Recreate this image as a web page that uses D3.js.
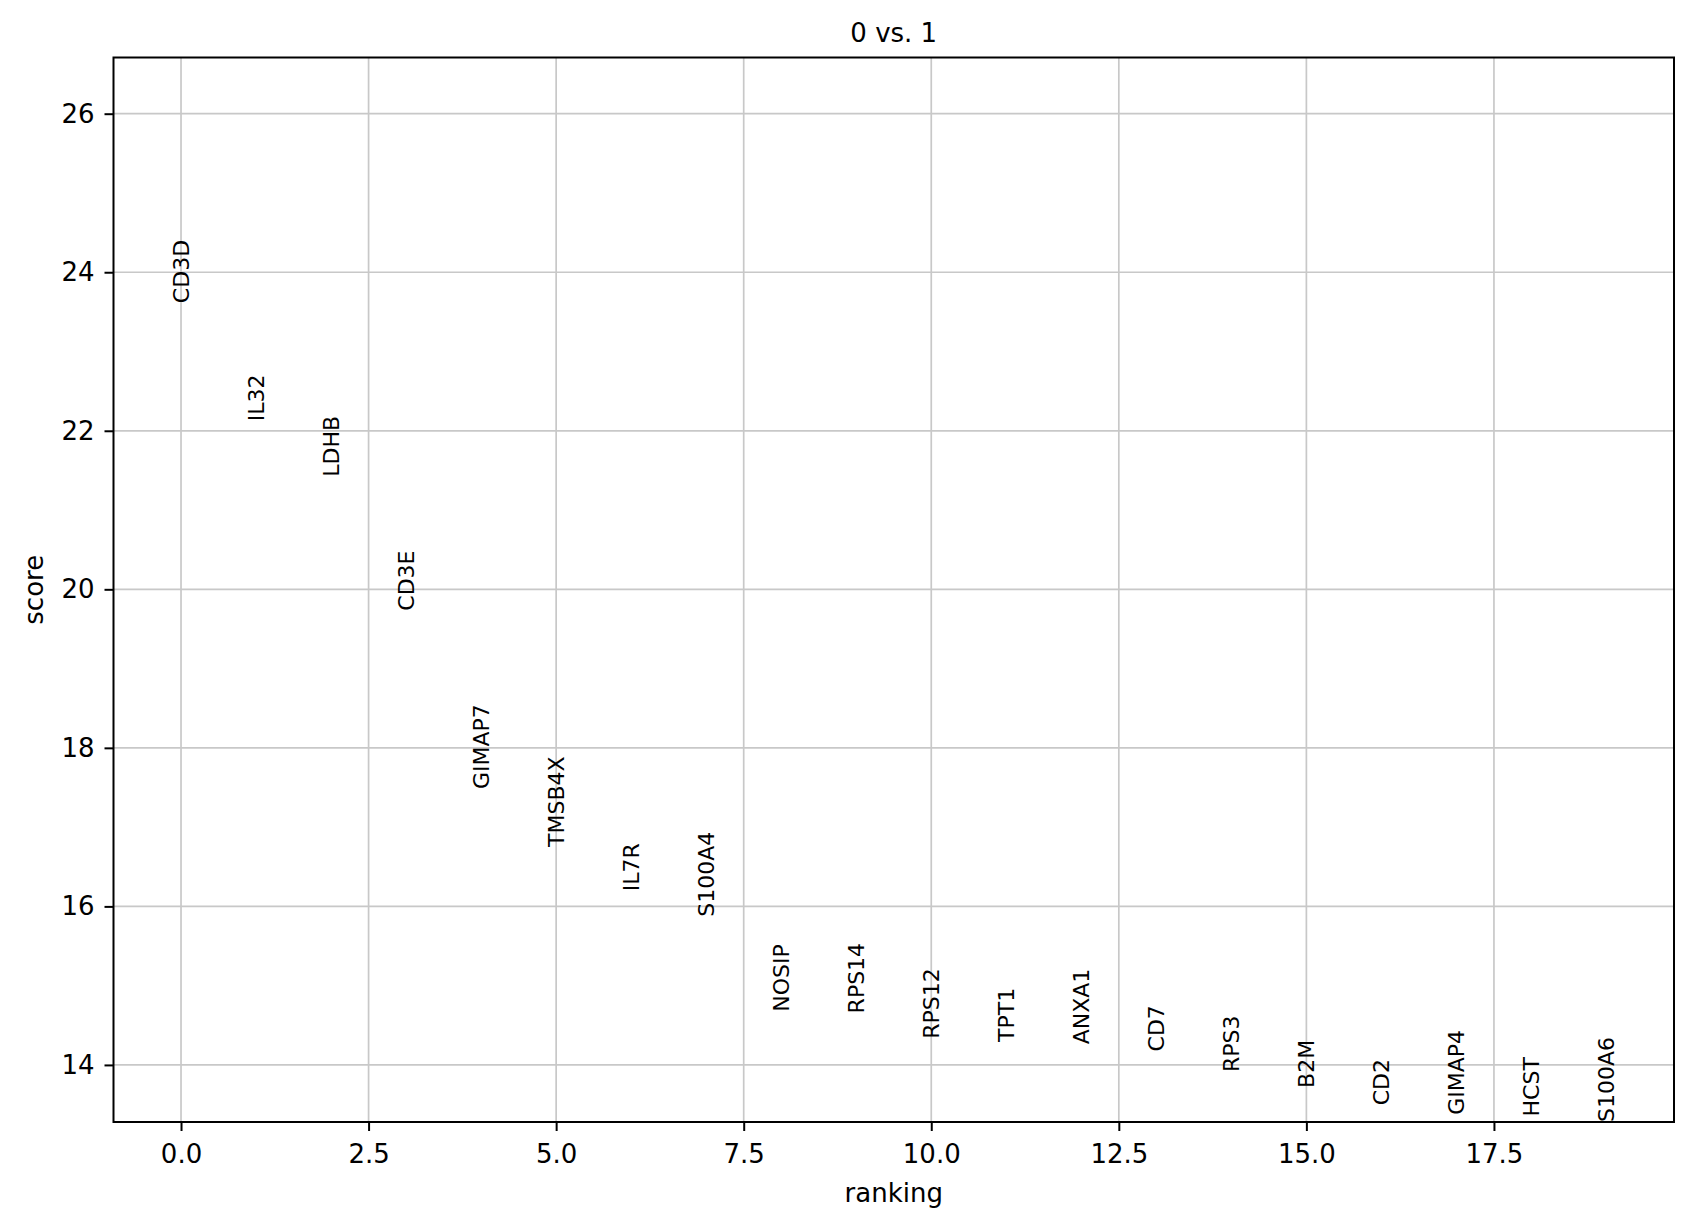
<!DOCTYPE html>
<html>
<head>
<meta charset="utf-8">
<script src="https://cdn.jsdelivr.net/npm/d3@7"></script>
<style>
    body { margin: 0; background: #fff; }
    text { font-family: "DejaVu Sans", sans-serif; fill: #000; }
</style>
</head>
<body>
<svg id="chart" width="1693" height="1229"></svg>
<script>
const geneNames = ["CD3D", "IL32", "LDHB", "CD3E", "GIMAP7", "TMSB4X", "IL7R", "S100A4",
    "NOSIP", "RPS14", "RPS12", "TPT1", "ANXA1", "CD7", "RPS3", "B2M", "CD2", "GIMAP4",
    "HCST", "S100A6"];
const scores = [23.61, 22.12, 21.42, 19.73, 17.48, 16.75, 16.19, 15.87,
    14.67, 14.65, 14.33, 14.29, 14.26, 14.17, 13.91, 13.71, 13.49, 13.37,
    13.35, 13.28];
const xTicks = [0, 2.5, 5, 7.5, 10, 12.5, 15, 17.5];
const yTicks = [14, 16, 18, 20, 22, 24, 26];
const title = "0 vs. 1";

const svg = d3.select("#chart"),
    margin = { top: 57.5, right: 19, bottom: 107, left: 113.5 },
    width = 1693 - margin.left - margin.right,
    height = 1229 - margin.top - margin.bottom;

// scanpy style limits: y from min score to max + 30% of the range
const ymin = d3.min(scores),
    ymax = d3.max(scores) + 0.3 * (d3.max(scores) - ymin);

const x = d3.scaleLinear()
    .domain([-0.9, geneNames.length - 0.1])
    .range([0, width]);

const y = d3.scaleLinear()
    .domain([ymin, ymax])
    .range([height, 0]);

const g = svg.append("g")
    .attr("transform", "translate(" + margin.left + "," + margin.top + ")");

// grid
g.append("g")
    .selectAll("line")
    .data(xTicks)
    .enter()
    .append("line")
    .attr("x1", function (d) { return x(d); })
    .attr("x2", function (d) { return x(d); })
    .attr("y1", 0)
    .attr("y2", height)
    .attr("stroke", "#c8c8c8")
    .attr("stroke-width", 1.7);

g.append("g")
    .selectAll("line")
    .data(yTicks)
    .enter()
    .append("line")
    .attr("x1", 0)
    .attr("x2", width)
    .attr("y1", function (d) { return y(d); })
    .attr("y2", function (d) { return y(d); })
    .attr("stroke", "#c8c8c8")
    .attr("stroke-width", 1.7);

// gene labels, vertical, bottom of text at the score
g.append("g")
    .selectAll("text")
    .data(geneNames)
    .enter()
    .append("text")
    .attr("transform", function (d, i) {
        return "translate(" + x(i) + "," + y(scores[i]) + ") rotate(-90)";
    })
    .attr("dy", "0.36em")
    .style("font-size", "22px")
    .text(function (d) { return d; });

// axes
const xAxis = g.append("g")
    .attr("transform", "translate(0," + height + ")")
    .call(d3.axisBottom(x)
        .tickValues(xTicks)
        .tickFormat(d3.format(".1f"))
        .tickSize(9)
        .tickPadding(14));

const yAxis = g.append("g")
    .call(d3.axisLeft(y)
        .tickValues(yTicks)
        .tickFormat(d3.format("d"))
        .tickSize(9)
        .tickPadding(10));

[xAxis, yAxis].forEach(function (axis) {
    axis.select(".domain").remove();
    axis.selectAll(".tick line").attr("stroke", "#000").attr("stroke-width", 2);
    axis.selectAll(".tick text")
        .style("font-size", "26px")
        .style("font-family", "DejaVu Sans, sans-serif")
        .attr("fill", "#000");
});

// frame
g.append("rect")
    .attr("width", width)
    .attr("height", height)
    .attr("fill", "none")
    .attr("stroke", "#000")
    .attr("stroke-width", 2);

// titles
svg.append("text")
    .attr("x", margin.left + width / 2)
    .attr("y", 41.7)
    .attr("text-anchor", "middle")
    .style("font-size", "26px")
    .text(title);

svg.append("text")
    .attr("x", margin.left + width / 2)
    .attr("y", 1201.7)
    .attr("text-anchor", "middle")
    .style("font-size", "26px")
    .text("ranking");

svg.append("text")
    .attr("transform", "translate(43," + (margin.top + height / 2) + ") rotate(-90)")
    .attr("text-anchor", "middle")
    .style("font-size", "26px")
    .text("score");
</script>
</body>
</html>
